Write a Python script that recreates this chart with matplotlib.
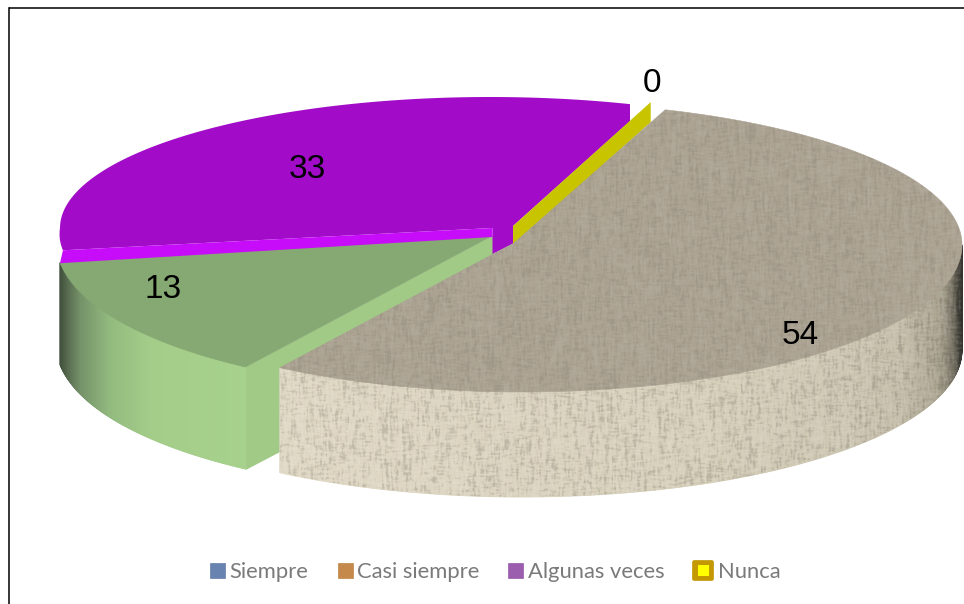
import numpy as np
import matplotlib
matplotlib.use("Agg")
import matplotlib.pyplot as plt
from matplotlib.patches import Polygon, Rectangle, FancyBboxPatch
from matplotlib.collections import PolyCollection
from matplotlib.colors import to_rgb

# data
legend_labels = ["Siempre", "Casi siempre", "Algunas veces", "Nunca"]
slice_values = [54, 13, 33, 0]
slice_labels = ["54", "13", "33", "0"]

START = 19.0
TOTAL = sum(slice_values)
edges = [START]
for v in slice_values:
    edges.append(edges[-1] + 360.0 * v / TOTAL)

W, H = 964, 604
fig = plt.figure(figsize=(W / 100, H / 100), dpi=100, facecolor="white")
ax = fig.add_axes([0, 0, 1, 1])
ax.set_xlim(0, W)
ax.set_ylim(H, 0)
ax.axis("off")


def rim(t, cx, cy, rx, ry_top, ry_bot, grow=0.0):
    r = np.radians(t)
    c = np.cos(r)
    ry = np.where(c > 0, ry_top, ry_bot)
    rxx = rx + grow * np.maximum(0, -c)
    return cx + rxx * np.sin(r), cy - ry * c


def wall(t0, t1, geom, depth, xs, cols, z):
    ts = np.linspace(t0, t1, 260)
    x, y = rim(ts, *geom)
    quads, colors = [], []
    rgb = np.array([to_rgb(c) for c in cols])
    for i in range(len(ts) - 1):
        quads.append([(x[i], y[i]), (x[i + 1], y[i + 1]),
                      (x[i + 1], y[i + 1] + depth), (x[i], y[i] + depth)])
        xm = 0.5 * (x[i] + x[i + 1])
        colors.append([np.interp(xm, xs, rgb[:, k]) for k in range(3)])
    ax.add_collection(PolyCollection(quads, facecolors=colors, edgecolors=colors,
                                     linewidths=0.6, zorder=z))
    return np.vstack([np.column_stack([x, y]),
                      np.column_stack([x[::-1], y[::-1] + depth])])


def box(a, n, axis):
    k = np.ones(n) / n
    return np.apply_along_axis(lambda v: np.convolve(v, k, mode="same"), axis, a)


def cloth():
    yy, xx = np.mgrid[0:H, 0:W]
    s = np.sin(xx * 12.9898 + yy * 78.233) * 43758.5453
    a = s - np.floor(s) - 0.5
    s2 = np.sin(xx * 39.346 + yy * 11.135) * 24634.6345
    b = s2 - np.floor(s2) - 0.5
    vert = box(a, 7, 0)
    horiz = box(b, 7, 1)
    long_v = box(box(a, 30, 0), 2, 1)
    w = vert / vert.std() + 0.9 * horiz / horiz.std() + 0.3 * long_v / long_v.std()
    return box(box(w, 2, 0), 2, 1)


CLOTH = cloth()
CLOTH = np.clip(CLOTH / (2.2 * CLOTH.std()), -1, 1)


def texture(poly_xy, strength, z):
    rgba = np.zeros((H, W, 4))
    rgba[..., :3] = (CLOTH[..., None] > 0) * 1.0
    rgba[..., 3] = np.abs(CLOTH) * strength
    im = ax.imshow(rgba, extent=(0, W, H, 0), zorder=z, interpolation="bilinear", aspect="auto")
    im.set_clip_path(Polygon(poly_xy, closed=True, transform=ax.transData))
    ax.set_xlim(0, W)
    ax.set_ylim(H, 0)


# --- green slice (13) ---
g_geom = (492, 236, 436, 140, 157, 14)
g0, g1 = edges[1], edges[2]
tg = np.linspace(g0, g1, 120)
gx, gy = rim(tg, *g_geom)
g_depth = 103
ax.add_patch(Polygon([(gx[0], gy[0]), (gx[0], gy[0] + g_depth), (494, 340), (494, 235)],
                     closed=True, fc="#a0ca86", ec="none", zorder=2))
wall(g0, g1, g_geom, g_depth - 1,
     [58, 66, 80, 110, 150, 250],
     ["#3c4a38", "#56694e", "#76936a", "#93bb7f", "#a4cd8a", "#a6d18c"], 3)
ax.add_patch(Polygon(np.vstack([[(492, 236)], np.column_stack([gx, gy])]),
                     closed=True, fc="#86a872", ec="#86a872", lw=0.4, zorder=4))

# --- purple slice (33) ---
p_geom = (490, 228, 430, 131, 131, 20)
p0, p1 = edges[2], edges[3]
tp = np.linspace(p0, p1, 200)
px, py = rim(tp, *p_geom)
ax.add_patch(Polygon(np.vstack([np.column_stack([px, py]),
                                [(px[-1], py[-1] + 17), (513, 226), (513, 244), (492.5, 254), (492.5, 228)]]),
                     closed=True, fc="#a20cc8", ec="none", zorder=5))
ax.add_patch(Polygon([(px[0], py[0]), (492.5, 228), (492.5, 237), (gx[-1], gy[-1] + 0.5)],
                     closed=True, fc="#c60cf8", ec="none", zorder=6))

# --- yellow slice (0): only its cut face shows ---
y_geom = (513, 226, 423, 131, 131)
yx, yyy = rim(np.array(edges[4]), *y_geom)
ax.add_patch(Polygon([(513, 226), (yx, yyy), (yx, yyy + 20), (513, 246)],
                     closed=True, fc="#c8c400", ec="none", zorder=7))

# --- tan slice (54) ---
t_geom = (522, 245, 440, 143, 147)
t0, t1 = edges[0], edges[1]
t_depth = 105
wall_outline = wall(90, t1, t_geom, t_depth,
                    [280, 450, 700, 850, 900, 940, 952, 958, 964],
                    ["#e0d8c4", "#dcd4c0", "#d6cfba", "#cdc6b2", "#c4bda9", "#a8a28f", "#7c7869", "#45423b", "#2e2c28"], 8)
texture(wall_outline, 0.13, 9)
tt = np.linspace(t0, t1, 260)
tx, ty = rim(tt, *t_geom)
top_xy = np.vstack([[(514, 243)], np.column_stack([tx, ty])])
ax.add_patch(Polygon(top_xy, closed=True, fc="#aba292", ec="#aba292", lw=0.4, zorder=10))
texture(top_xy, 0.07, 11)

# --- value labels ---
label_pos = [(800, 335), (163, 289), (307, 169), (652, 83)]
for s, (lx, ly) in zip(slice_labels, label_pos):
    ax.text(lx, ly, s, fontsize=24, family="Liberation Sans", color="black",
            ha="center", va="center", zorder=20)

# --- legend ---
legend_colors = ["#5b78a8", "#c07f3c", "#9350a8"]
marker_x = [210, 338, 508]
text_x = [229, 357, 528, 718]
for c, mx in zip(legend_colors, marker_x):
    ax.add_patch(Rectangle((mx, 563), 15, 15, fc=c, ec=c, lw=0.5, alpha=0.92, zorder=20))
ax.add_patch(FancyBboxPatch((694, 562), 18, 17, boxstyle="round,pad=1.5,rounding_size=2",
                            fc="#c49800", ec="#c49800", lw=0.5, zorder=20))
ax.add_patch(Rectangle((698, 565), 11, 11, fc="#ffff00", ec="none", zorder=21))
for s, tx_ in zip(legend_labels, text_x):
    ax.text(tx_, 572.5, s, fontsize=15.8, family="Lato", color="#7a7a7a",
            ha="left", va="center", zorder=20)

# --- frame ---
ax.plot([9, 9], [604, 7.5], color="black", lw=1.1, zorder=30, solid_capstyle="projecting")
ax.plot([9, 964], [7.5, 7.5], color="black", lw=1.1, zorder=30, solid_capstyle="butt")

fig.savefig("out.png", dpi=100, facecolor="white")
